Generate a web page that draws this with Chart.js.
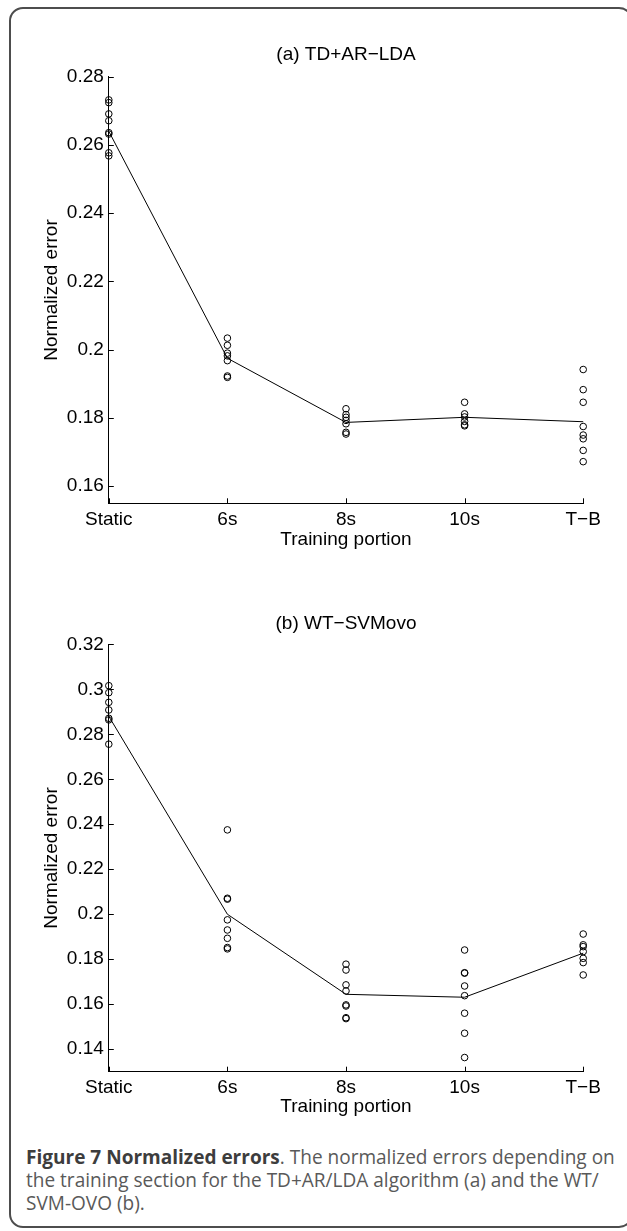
<!DOCTYPE html>
<html>
<head>
<meta charset="utf-8">
<script src="https://cdn.jsdelivr.net/npm/chart.js@4.4.0/dist/chart.umd.min.js"></script>
<style>
html,body{margin:0;padding:0;background:#fff;}
body{width:627px;height:1231px;overflow:hidden;position:relative;}
#frame{position:absolute;left:9px;top:7px;width:624px;height:1221px;border:2px solid #4d4d4d;border-radius:14px;box-sizing:border-box;}
canvas{position:absolute;left:0;}
#c1{top:0;}
#c2{top:570px;}
.cap{position:absolute;left:26px;white-space:nowrap;font-family:"Open Sans",sans-serif;color:#595959;line-height:25px;font-size:15px;}
.cap b{color:#3d3d3d;font-weight:700;}
</style>
</head>
<body>
<div id="frame"></div>
<canvas id="c1" width="627" height="570"></canvas>
<canvas id="c2" width="627" height="560"></canvas>
<div class="cap" id="cap1" style="top:1145px"><b>Figure 7 Normalized errors</b>. The normalized errors depending on</div>
<div class="cap" id="cap2" style="top:1168px">the training section for the TD+AR/LDA algorithm (a) and the WT/</div>
<div class="cap" id="cap3" style="top:1191px">SVM-OVO (b).</div>
<script>
// ---------- data ----------
const categories = ['Static', '6s', '8s', '10s', 'T\u2212B'];

const titleA = '(a) TD+AR\u2212LDA';
const titleB = '(b) WT\u2212SVMovo';
const xTitle = 'Training portion';
const yTitle = 'Normalized error';

// individual runs per training portion (panel a)
const runsA_static = [0.2732, 0.2724, 0.2691, 0.2671, 0.2636, 0.2632, 0.2577, 0.2568];
const runsA_6s     = [0.2034, 0.2013, 0.1990, 0.1982, 0.1968, 0.1923, 0.1919];
const runsA_8s     = [0.1827, 0.1810, 0.1802, 0.1793, 0.1783, 0.1758, 0.1753];
const runsA_10s    = [0.1846, 0.1812, 0.1803, 0.1790, 0.1780, 0.1777];
const runsA_TB     = [0.1942, 0.1883, 0.1846, 0.1775, 0.1750, 0.1739, 0.1705, 0.1672];
const meanA        = [0.2640, 0.1975, 0.1787, 0.1802, 0.1789];

// individual runs per training portion (panel b)
const runsB_static = [0.3016, 0.2985, 0.2942, 0.2908, 0.2871, 0.2864, 0.2756];
const runsB_6s     = [0.2375, 0.2071, 0.2067, 0.1975, 0.1930, 0.1893, 0.1852, 0.1846];
const runsB_8s     = [0.1778, 0.1752, 0.1686, 0.1659, 0.1597, 0.1592, 0.1540, 0.1536];
const runsB_10s    = [0.1841, 0.1740, 0.1738, 0.1681, 0.1638, 0.1560, 0.1471, 0.1363];
const runsB_TB     = [0.1912, 0.1864, 0.1856, 0.1834, 0.1804, 0.1785, 0.1730];
const meanB        = [0.2880, 0.2000, 0.1644, 0.1631, 0.1827];

const yTicksA = [0.16, 0.18, 0.20, 0.22, 0.24, 0.26, 0.28];
const yTicksB = [0.14, 0.16, 0.18, 0.20, 0.22, 0.24, 0.26, 0.28, 0.30, 0.32];
const yRangeA = [0.155, 0.28];
const yRangeB = [0.13, 0.32];

// ---------- chart ----------
Chart.defaults.font.family = '"Liberation Sans", Arial, sans-serif';
Chart.defaults.font.size = 19;
Chart.defaults.color = '#000';

const inwardTicks = {
  id: 'inwardTicks',
  afterDatasetsDraw(chart) {
    const {ctx, chartArea: a, scales: {x, y}} = chart;
    ctx.save();
    ctx.strokeStyle = '#000';
    ctx.lineWidth = 1;
    ctx.beginPath();
    y.ticks.forEach(t => {
      const py = Math.round(y.getPixelForValue(t.value)) + 0.5;
      ctx.moveTo(a.left, py); ctx.lineTo(a.left + 5, py);
    });
    x.ticks.forEach(t => {
      const px = Math.round(x.getPixelForValue(t.value)) + 0.5;
      ctx.moveTo(px, a.bottom); ctx.lineTo(px, a.bottom - 5);
    });
    ctx.stroke();
    ctx.restore();
  }
};

function fmt(v) { return String(Number(v.toFixed(2))); }

function makeChart(id, runs, means, yTicks, yRange, title, lay) {
  const pts = [];
  runs.forEach((vals, i) => vals.forEach(v => pts.push({x: i, y: v})));
  const meanPts = means.map((v, i) => ({x: i, y: v}));
  return new Chart(document.getElementById(id), {
    type: 'scatter',
    data: {
      datasets: [
        {
          data: meanPts, showLine: true, borderColor: '#000', borderWidth: 1,
          pointRadius: 0, tension: 0, clip: false, fill: false
        },
        {
          data: pts, showLine: false, borderColor: '#000', borderWidth: 1,
          backgroundColor: 'rgba(0,0,0,0)', pointRadius: 3.3, pointStyle: 'circle', clip: false
        }
      ]
    },
    options: {
      responsive: false,
      animation: false,
      events: [],
      layout: {padding: {left: 30, right: 43.8, top: 0, bottom: 0}},
      plugins: {
        legend: {display: false},
        tooltip: {enabled: false},
        title: {
          display: true, text: title, fullSize: false, color: '#000',
          font: {size: 19, weight: 'normal'},
          padding: {top: lay.titleTop, bottom: lay.titleBottom}
        }
      },
      scales: {
        x: {
          type: 'linear', min: 0, max: categories.length - 1,
          afterBuildTicks: s => { s.ticks = categories.map((c, i) => ({value: i})); },
          afterFit: s => { s.height = lay.xHeight; },
          ticks: {callback: v => categories[v], padding: 5, maxRotation: 0, autoSkip: false},
          grid: {display: true, drawOnChartArea: false, drawTicks: false},
          border: {display: true, color: '#000', width: 1},
          title: {display: true, text: xTitle, padding: {top: 0, bottom: lay.xTitleBottom}}
        },
        y: {
          type: 'linear', min: yRange[0], max: yRange[1],
          afterBuildTicks: s => { s.ticks = yTicks.map(v => ({value: v})); },
          afterFit: s => { s.width = 78.8; },
          ticks: {callback: v => fmt(v), padding: 5},
          grid: {display: true, drawOnChartArea: false, drawTicks: false},
          border: {display: true, color: '#000', width: 1},
          title: {display: true, text: yTitle, padding: {top: 10.3, bottom: 0}}
        }
      }
    },
    plugins: [inwardTicks]
  });
}

makeChart('c1', [runsA_static, runsA_6s, runsA_8s, runsA_10s, runsA_TB], meanA, yTicksA, yRangeA, titleA,
  {titleTop: 43.6, titleBottom: 10.3, xHeight: 66.7, xTitleBottom: 18.9});
makeChart('c2', [runsB_static, runsB_6s, runsB_8s, runsB_10s, runsB_TB], meanB, yTicksB, yRangeB, titleB,
  {titleTop: 42.1, titleBottom: 9.4, xHeight: 58.3, xTitleBottom: 11.6});

// fit caption font so line 1 spans the same width as in the figure
(function () {
  const l1 = document.getElementById('cap1');
  const w = l1.getBoundingClientRect().width;
  const fs = 15 * 589 / w;
  document.querySelectorAll('.cap').forEach(el => { el.style.fontSize = fs.toFixed(2) + 'px'; });
})();
</script>
</body>
</html>
